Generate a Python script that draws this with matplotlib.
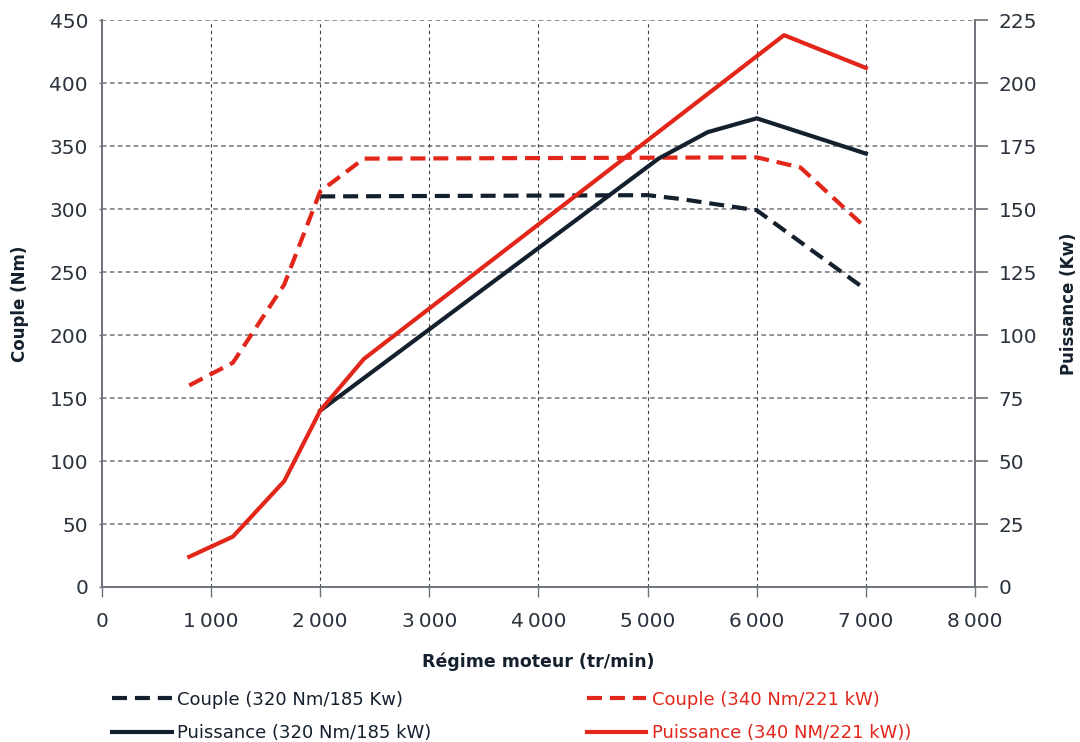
import matplotlib.pyplot as plt
from matplotlib.ticker import FixedLocator, FuncFormatter

plt.rcParams['font.family'] = ['DejaVu Sans']

NAVY = '#14202d'
RED = '#e3261a'
GREY = '#6d737b'
TXT = '#2a323c'

# Couple (Nm) - left axis
rpm_c320 = [2000, 5000, 5300, 6000, 7000]
couple_320 = [310, 311, 308, 299, 236]

rpm_c340 = [800, 1200, 1670, 2000, 2400, 6000, 6400, 7000]
couple_340 = [160, 178, 240, 314, 340, 341, 333, 285]

# Puissance (kW) - right axis
rpm_p320 = [2000, 5100, 5550, 6000, 7000]
puiss_320 = [70, 170, 180.5, 186, 172]

rpm_p340 = [800, 1200, 1670, 2000, 2400, 6250, 7000]
puiss_340 = [12, 20, 42, 70, 90.5, 219, 206]

x_ticks = [0, 1000, 2000, 3000, 4000, 5000, 6000, 7000, 8000]
left_ticks = [0, 50, 100, 150, 200, 250, 300, 350, 400, 450]
right_ticks = [0, 25, 50, 75, 100, 125, 150, 175, 200, 225]

labels = ['Couple (320 Nm/185 Kw)', 'Puissance (320 Nm/185 kW)',
          'Couple (340 Nm/221 kW)', 'Puissance (340 NM/221 kW))']

fig = plt.figure(figsize=(10.8, 7.42), dpi=100)
ax = fig.add_axes([0.0944, 0.2089, 0.8084, 0.7641])
ax2 = ax.twinx()

# grid
for y in left_ticks[1:]:
    ax.axhline(y, color=GREY, lw=1.1, dashes=(3, 2.2), zorder=0)
for x in x_ticks[1:-1]:
    ax.axvline(x, color='#3a3f46', lw=0.8, dashes=(3, 3), zorder=0)

dash = (3.6, 1.9)
l1, = ax.plot(rpm_c320, couple_320, color=NAVY, lw=3, dashes=dash)
l3, = ax.plot(rpm_c340, couple_340, color=RED, lw=3, dashes=dash)
l2, = ax2.plot(rpm_p320, puiss_320, color=NAVY, lw=3)
l4, = ax2.plot(rpm_p340, puiss_340, color=RED, lw=3)

ax.set_xlim(0, 8000)
ax.set_ylim(0, 450)
ax2.set_ylim(0, 225)

ax.xaxis.set_major_locator(FixedLocator(x_ticks))
ax.xaxis.set_major_formatter(FuncFormatter(
    lambda v, p: '0' if v == 0 else f'{int(v):,}'.replace(',', '\u2009')))
ax.yaxis.set_major_locator(FixedLocator(left_ticks))
ax2.yaxis.set_major_locator(FixedLocator(right_ticks))

for a in (ax, ax2):
    for s in a.spines.values():
        s.set_color(GREY)
        s.set_linewidth(1.2)
    a.spines['top'].set_visible(False)

ax.tick_params(axis='x', length=7, width=1, color=GREY, pad=11,
               labelsize=14.5, labelcolor=TXT)
ax.tick_params(axis='y', length=2, width=1, color=GREY, pad=8,
               labelsize=14.5, labelcolor=TXT)
ax2.tick_params(axis='y', length=9, width=1.2, color=GREY, pad=8,
                labelsize=14.5, labelcolor=TXT)

ax.set_xlabel('Régime moteur (tr/min)', fontsize=12.5, fontweight='bold', color=NAVY)
ax.xaxis.set_label_coords(0.5, -0.115)
ax.set_ylabel('Couple (Nm)', fontsize=12, fontweight='bold', color=NAVY)
ax.yaxis.set_label_coords(-0.083, 0.5)
ax2.set_ylabel('Puissance (Kw)', fontsize=12, fontweight='bold', color=NAVY)
ax2.yaxis.set_label_coords(1.097, 0.5)

leg = fig.legend([l1, l2, l3, l4], labels, ncol=2, loc='upper left',
                 bbox_to_anchor=(0.097, 0.079), frameon=False, fontsize=13,
                 handlelength=3.3, handletextpad=0.3, columnspacing=8.6,
                 labelspacing=0.85, borderaxespad=0)
for t, c in zip(leg.get_texts(), [NAVY, NAVY, RED, RED]):
    t.set_color(c)

fig.savefig('out.png', dpi=100)
